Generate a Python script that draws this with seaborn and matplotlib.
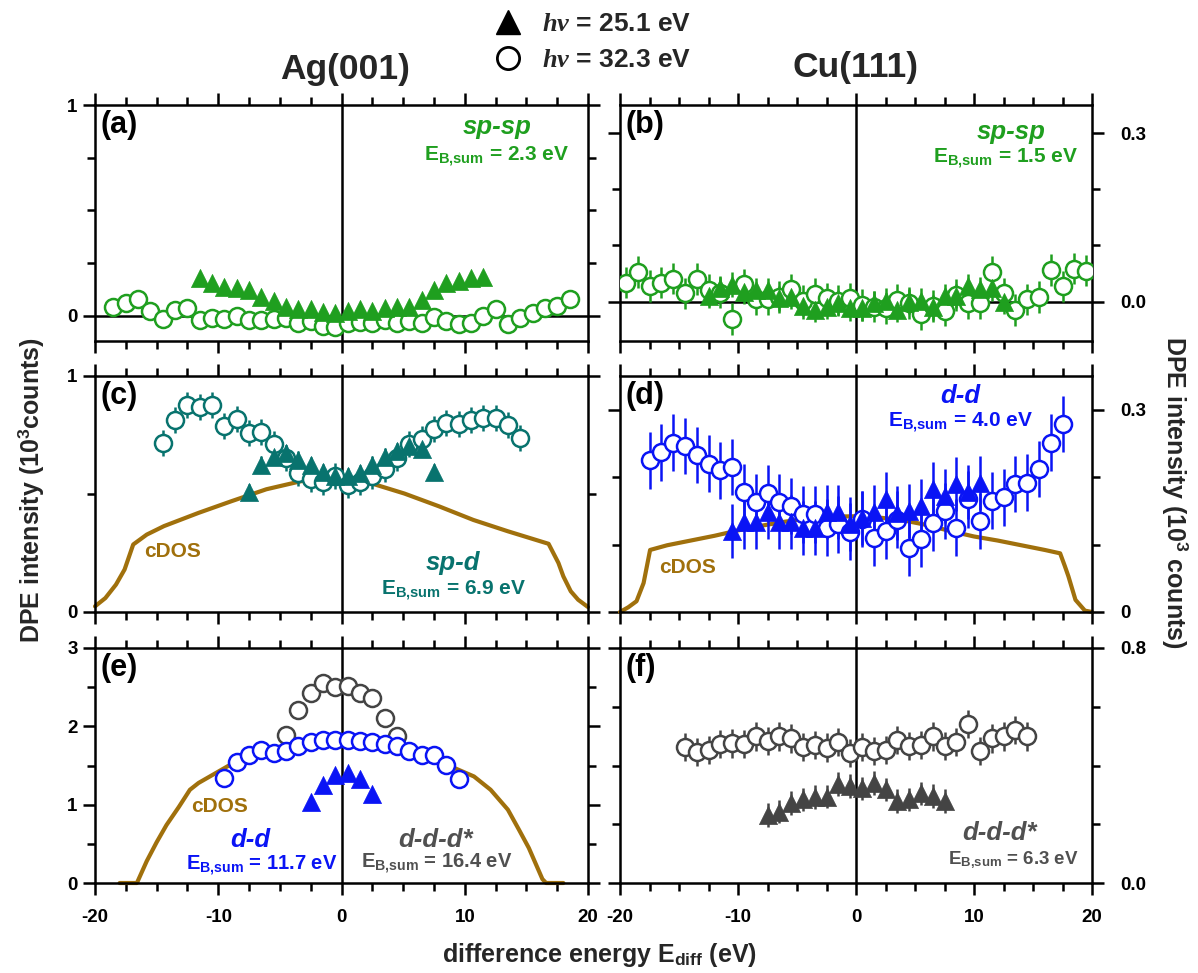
import numpy as np
import pandas as pd
import matplotlib
matplotlib.use("Agg")
import matplotlib.pyplot as plt
import seaborn as sns
from matplotlib.lines import Line2D
from matplotlib.ticker import FixedLocator, FixedFormatter

# ---------------- data ----------------
# (a) Ag(001) sp-sp
a_circ_x = [-18.5, -17.5, -16.5, -15.5, -14.5, -13.5, -12.5, -11.5, -10.5, -9.5, -8.5, -7.5, -6.5, -5.5,
            -4.5, -3.5, -2.5, -1.5, -0.5, 0.5, 1.5, 2.5, 3.5, 4.5, 5.5, 6.5, 7.5, 8.5, 9.5, 10.5,
            11.5, 12.5, 13.5, 14.5, 15.5, 16.5, 17.5, 18.5]
a_circ_y = [0.043, 0.062, 0.078, 0.024, -0.014, 0.027, 0.035, -0.020, -0.011, -0.016, -0.002, -0.020,
            -0.020, -0.017, -0.011, -0.036, -0.025, -0.049, -0.055, -0.036, -0.028, -0.036, -0.020,
            -0.033, -0.027, -0.036, -0.005, -0.025, -0.040, -0.036, -0.002, 0.032, -0.040, -0.013,
            0.014, 0.035, 0.046, 0.078]
a_tri_x = [-11.5, -10.5, -9.5, -8.5, -7.5, -6.5, -5.5, -4.5, -3.5, -2.5, -1.5, -0.5, 0.5, 1.5, 2.5,
           3.5, 4.5, 5.5, 6.5, 7.5, 8.5, 9.5, 10.5, 11.5]
a_tri_y = [0.177, 0.153, 0.138, 0.130, 0.122, 0.087, 0.071, 0.040, 0.033, 0.030, 0.019, 0.014, 0.024,
           0.033, 0.024, 0.035, 0.043, 0.043, 0.074, 0.122, 0.153, 0.166, 0.177, 0.185]

# (b) Cu(111) sp-sp
b_circ_x = [-19.5, -18.5, -17.5, -16.5, -15.5, -14.5, -13.5, -12.5, -11.5, -10.5, -9.5, -8.5, -7.5,
            -6.5, -5.5, -4.5, -3.5, -2.5, -1.5, -0.5, 0.5, 1.5, 2.5, 3.5, 4.5, 5.5, 6.5, 7.5, 8.5,
            9.5, 10.5, 11.5, 12.5, 13.5, 14.5, 15.5, 16.5, 17.5, 18.5, 19.5]
b_circ_y = [0.034, 0.053, 0.028, 0.034, 0.041, 0.015, 0.040, 0.021, 0.016, -0.031, 0.031, 0.004,
            0.004, 0.008, 0.022, 0.002, 0.014, 0.006, 0.002, 0.006, -0.006, -0.009, -0.012, 0.003,
            -0.002, -0.022, -0.008, -0.016, 0.012, -0.003, -0.002, 0.053, 0.015, -0.015, 0.004,
            0.008, 0.056, 0.027, 0.059, 0.055]
b_tri_x = [-12.5, -11.5, -10.5, -9.5, -8.5, -7.5, -6.5, -5.5, -4.5, -3.5, -2.5, -1.5, -0.5, 0.5,
           1.5, 2.5, 3.5, 4.5, 5.5, 6.5, 7.5, 8.5, 9.5, 10.5, 11.5, 12.5]
b_tri_y = [0.010, 0.024, 0.030, 0.018, 0.021, 0.021, 0.006, 0.009, -0.008, -0.014, -0.009, -0.002,
           -0.012, -0.012, -0.003, 0.002, -0.014, 0.000, 0.002, -0.010, 0.010, 0.010, 0.028, 0.022,
           0.024, 0.000]

# (c) Ag(001) sp-d
c_circ_x = [-14.5, -13.5, -12.5, -11.5, -10.5, -9.5, -8.5, -7.5, -6.5, -5.5, -4.5, -3.5, -2.5, -1.5,
            -0.5, 0.5, 1.5, 2.5, 3.5, 4.5, 5.5, 6.5, 7.5, 8.5, 9.5, 10.5, 11.5, 12.5, 13.5, 14.5]
c_circ_y = [0.717, 0.813, 0.876, 0.870, 0.876, 0.788, 0.816, 0.760, 0.762, 0.710, 0.653, 0.590,
            0.564, 0.550, 0.576, 0.540, 0.550, 0.576, 0.607, 0.653, 0.710, 0.734, 0.774, 0.802,
            0.795, 0.813, 0.823, 0.823, 0.791, 0.738]
c_tri_x = [-7.5, -6.5, -5.5, -4.5, -3.5, -2.5, -1.5, -0.5, 0.5, 1.5, 2.5, 3.5, 4.5, 5.5, 6.5, 7.5]
c_tri_y = [0.508, 0.625, 0.658, 0.672, 0.646, 0.621, 0.593, 0.578, 0.576, 0.587, 0.625, 0.658,
           0.682, 0.703, 0.692, 0.593]
c_dos_x = [-20, -19.16, -18.3, -17.6, -16.9, -15.8, -14.4, -11.6, -8.9, -6.1, -3.3, -0.5, 0.9, 2.3,
           5.1, 7.9, 10.7, 13.5, 16.8, 17.6, 18.0, 18.6, 19.2, 20]
c_dos_y = [0.024, 0.059, 0.116, 0.18, 0.286, 0.328, 0.364, 0.42, 0.47, 0.52, 0.554, 0.569, 0.567,
           0.547, 0.502, 0.448, 0.39, 0.342, 0.289, 0.208, 0.151, 0.088, 0.052, 0.021]

# (d) Cu(111) d-d
d_circ_x = [-17.5, -16.5, -15.5, -14.5, -13.5, -12.5, -11.5, -10.5, -9.5, -8.5, -7.5, -6.5, -5.5,
            -4.5, -3.5, -2.5, -1.5, -0.5, 0.5, 1.5, 2.5, 3.5, 4.5, 5.5, 6.5, 7.5, 8.5, 9.5, 10.5,
            11.5, 12.5, 13.5, 14.5, 15.5, 16.5, 17.5]
d_circ_y = [0.225, 0.237, 0.251, 0.246, 0.233, 0.220, 0.210, 0.215, 0.178, 0.163, 0.176, 0.163,
            0.157, 0.145, 0.145, 0.125, 0.130, 0.119, 0.138, 0.110, 0.120, 0.137, 0.095, 0.108,
            0.132, 0.150, 0.125, 0.167, 0.135, 0.165, 0.170, 0.190, 0.192, 0.212, 0.251, 0.279]
d_tri_x = [-10.5, -9.5, -8.5, -7.5, -6.5, -5.5, -4.5, -3.5, -2.5, -1.5, -0.5, 0.5, 1.5, 2.5, 3.5,
           4.5, 5.5, 6.5, 7.5, 8.5, 9.5, 10.5]
d_tri_y = [0.120, 0.134, 0.134, 0.149, 0.133, 0.134, 0.125, 0.125, 0.149, 0.149, 0.130, 0.140,
           0.149, 0.167, 0.147, 0.150, 0.157, 0.182, 0.172, 0.190, 0.178, 0.192]
d_dos_x = [-20, -19.3, -18.6, -18, -17.45, -16, -14, -12, -10, -8, -6, -4, -2, 0, 2, 4, 6, 8, 10,
           12, 14, 16, 17.3, 17.7, 18, 18.6, 19.4, 20]
d_dos_y = [0, 0.007, 0.016, 0.043, 0.092, 0.099, 0.106, 0.113, 0.121, 0.128, 0.134, 0.139, 0.1415,
           0.142, 0.140, 0.136, 0.129, 0.120, 0.112, 0.106, 0.099, 0.092, 0.087, 0.068, 0.053,
           0.018, 0.002, 0]

# (e) Ag(001) d-d and d-d-d*
e_circ_x = [-9.5, -8.5, -7.5, -6.5, -5.5, -4.5, -3.5, -2.5, -1.5, -0.5, 0.5, 1.5, 2.5, 3.5, 4.5,
            5.5, 6.5, 7.5, 8.5, 9.5]
e_circ_y = [1.34, 1.55, 1.63, 1.70, 1.66, 1.68, 1.745, 1.80, 1.82, 1.83, 1.83, 1.81, 1.80, 1.77,
            1.745, 1.68, 1.64, 1.63, 1.51, 1.33]
e_gray_x = [-4.5, -3.5, -2.5, -1.5, -0.5, 0.5, 1.5, 2.5, 3.5, 4.5]
e_gray_y = [1.89, 2.21, 2.43, 2.55, 2.50, 2.52, 2.42, 2.36, 2.11, 1.88]
e_tri_x = [-2.5, -1.5, -0.5, 0.5, 1.5, 2.5]
e_tri_y = [1.03, 1.255, 1.38, 1.40, 1.33, 1.14]
e_dos_x = [-18, -16.6, -15.8, -15.0, -14.2, -13.2, -12.3, -11.6, -8.8, -6.0, -3.25, -0.45, 2.35,
           5.15, 7.95, 10.75, 12.1, 13.5, 14.4, 15.2, 16.3, 16.6, 18]
e_dos_y = [0, 0, 0.28, 0.52, 0.74, 0.97, 1.19, 1.277, 1.53, 1.70, 1.81, 1.864, 1.83, 1.72, 1.55,
           1.36, 1.19, 0.936, 0.68, 0.447, 0.05, 0, 0]

# (f) Cu(111) d-d-d*
f_circ_x = [-14.5, -13.5, -12.5, -11.5, -10.5, -9.5, -8.5, -7.5, -6.5, -5.5, -4.5, -3.5, -2.5, -1.5,
            -0.5, 0.5, 1.5, 2.5, 3.5, 4.5, 5.5, 6.5, 7.5, 8.5, 9.5, 10.5, 11.5, 12.5, 13.5, 14.5]
f_circ_y = [0.463, 0.446, 0.452, 0.472, 0.475, 0.472, 0.499, 0.484, 0.499, 0.492, 0.463, 0.469,
            0.461, 0.480, 0.443, 0.463, 0.450, 0.452, 0.486, 0.466, 0.469, 0.499, 0.466, 0.480,
            0.540, 0.450, 0.492, 0.499, 0.520, 0.499]
f_tri_x = [-7.5, -6.5, -5.5, -4.5, -3.5, -2.5, -1.5, -0.5, 0.5, 1.5, 2.5, 3.5, 4.5, 5.5, 6.5, 7.5]
f_tri_y = [0.232, 0.243, 0.273, 0.285, 0.292, 0.294, 0.337, 0.330, 0.322, 0.341, 0.319, 0.280,
           0.285, 0.305, 0.296, 0.280]

x_major = [-20, -10, 0, 10, 20]
x_labels = ["-20", "-10", "0", "10", "20"]

# ---------------- style ----------------
sns.set_theme(style="ticks")
plt.rcParams['font.family'] = ['Liberation Sans', 'DejaVu Sans']
plt.rcParams['font.weight'] = 'bold'
plt.rcParams['mathtext.fontset'] = 'custom'
plt.rcParams['mathtext.rm'] = 'Liberation Sans:bold'
plt.rcParams['mathtext.bf'] = 'Liberation Sans:bold'
plt.rcParams['mathtext.sf'] = 'Liberation Sans:bold'
plt.rcParams['mathtext.it'] = 'Liberation Serif:italic:bold'

GREEN = "#1f9f1f"
TEAL = "#08736e"
BLUE = "#0a14f5"
GRAY = "#444444"
GRAYTXT = "#505050"
BROWN = "#a0700c"
LW = 1.8

fig = plt.figure(figsize=(11.98, 9.73), dpi=100)
W, H = 1198.0, 973.0


def make_ax(left, right, top, bottom):
    return fig.add_axes([left / W, 1 - bottom / H, (right - left) / W, (bottom - top) / H])


axa = make_ax(95, 588, 105, 341)
axb = make_ax(620, 1092, 105, 341)
axc = make_ax(95, 588, 376, 612)
axd = make_ax(620, 1092, 376, 612)
axe = make_ax(95, 588, 648, 883)
axf = make_ax(620, 1092, 648, 883)


def points(ax, x, y, err, color, marker):
    ax.errorbar(x, y, yerr=err, fmt='none', ecolor=color, elinewidth=LW, capsize=0, zorder=3)
    if marker == 'o':
        sns.scatterplot(x=x, y=y, ax=ax, marker='o', s=150, color=color, facecolors='white',
                        edgecolor=color, linewidth=LW, zorder=4)
    else:
        sns.scatterplot(x=x, y=y, ax=ax, marker='^', s=170, color=color, edgecolor=color,
                        linewidth=0.5, zorder=5)


def cdos(ax, x, y):
    sns.lineplot(x=x, y=y, ax=ax, color=BROWN, linewidth=3.0, sort=False, zorder=2,
                 clip_on=False)


def style(ax, ylim, ymaj, ylab, ymin, side, bottom_labels):
    ax.set_xlim(-20, 20)
    ax.set_ylim(*ylim)
    ax.axvline(0, color='black', lw=LW, zorder=1)
    ax.xaxis.set_major_locator(FixedLocator(x_major))
    ax.xaxis.set_major_formatter(FixedFormatter(x_labels))
    ax.xaxis.set_minor_locator(FixedLocator([-17.5, -15, -12.5, -7.5, -5, -2.5, 2.5, 5, 7.5, 12.5, 15, 17.5]))
    ax.yaxis.set_major_locator(FixedLocator(ymaj))
    ax.yaxis.set_major_formatter(FixedFormatter(ylab))
    ax.yaxis.set_minor_locator(FixedLocator(ymin))
    for sp in ax.spines.values():
        sp.set_visible(True)
        sp.set_linewidth(LW)
        sp.set_color('black')
    ax.tick_params(which='both', direction='out', top=True, bottom=True, left=True, right=True,
                   width=LW, color='black', labelsize=13.5, labelcolor='black')
    ax.tick_params(which='major', length=8.5, pad=4)
    ax.tick_params(which='minor', length=5.5)
    ax.tick_params(axis='x', labelbottom=bottom_labels, labeltop=False, pad=10)
    if side == 'left':
        ax.tick_params(axis='y', labelleft=True, labelright=False)
    else:
        ax.tick_params(axis='y', labelleft=False, labelright=True, pad=12)
    for lab in ax.get_xticklabels() + ax.get_yticklabels():
        lab.set_fontweight('bold')
    ax.set_xlabel("")
    ax.set_ylabel("")
    ax.set_facecolor('white')


def panel_label(ax, s):
    ax.text(0.012, 0.978, s, transform=ax.transAxes, ha='left', va='top', fontsize=22,
            fontweight='bold', color='black')


def label(ax, x, y, s, color, size, italic=False):
    ax.text(x, y, s, transform=ax.transAxes, ha='center', va='center', fontsize=size,
            fontweight='bold', fontstyle='italic' if italic else 'normal', color=color)


EB = r"E$_{\mathrm{B{,}sum}}$ = "

# (a)
axa.axhline(0, color='black', lw=LW, zorder=1)
points(axa, a_circ_x, a_circ_y, 0.012, GREEN, 'o')
points(axa, a_tri_x, a_tri_y, 0.008, GREEN, '^')
style(axa, (-0.12, 1.0), [0, 1], ["0", "1"], [0.25, 0.5, 0.75], 'left', False)
panel_label(axa, "(a)")
label(axa, 0.816, 0.905, "sp-sp", GREEN, 18.5, True)
label(axa, 0.815, 0.785, EB + "2.3 eV", GREEN, 15)

# (b)
axb.axhline(0, color='black', lw=LW, zorder=1)
points(axb, b_circ_x, b_circ_y, 0.028, GREEN, 'o')
points(axb, b_tri_x, b_tri_y, 0.022, GREEN, '^')
style(axb, (-0.07, 0.35), [0.0, 0.3], ["0.0", "0.3"], [0.1, 0.2], 'right', False)
panel_label(axb, "(b)")
label(axb, 0.828, 0.885, "sp-sp", GREEN, 18.5, True)
label(axb, 0.818, 0.775, EB + "1.5 eV", GREEN, 15)

# (c)
cdos(axc, c_dos_x, c_dos_y)
points(axc, c_circ_x, c_circ_y, 0.055, TEAL, 'o')
points(axc, c_tri_x, c_tri_y, 0.035, TEAL, '^')
style(axc, (0, 1.0), [0, 1], ["0", "1"], [0.5], 'left', False)
panel_label(axc, "(c)")
label(axc, 0.157, 0.257, "cDOS", BROWN, 15)
label(axc, 0.727, 0.208, "sp-d", TEAL, 18.5, True)
label(axc, 0.727, 0.095, EB + "6.9 eV", TEAL, 15)

# (d)
cdos(axd, d_dos_x, d_dos_y)
points(axd, d_circ_x, d_circ_y, 0.042, BLUE, 'o')
points(axd, d_tri_x, d_tri_y, 0.04, BLUE, '^')
style(axd, (0, 0.35), [0, 0.3], ["0", "0.3"], [0.1, 0.2], 'right', False)
panel_label(axd, "(d)")
label(axd, 0.144, 0.187, "cDOS", BROWN, 15)
label(axd, 0.722, 0.915, "d-d", BLUE, 18.5, True)
label(axd, 0.722, 0.805, EB + "4.0 eV", BLUE, 15)

# (e)
cdos(axe, e_dos_x, e_dos_y)
points(axe, e_gray_x, e_gray_y, 0.035, GRAY, 'o')
points(axe, e_circ_x, e_circ_y, 0.025, BLUE, 'o')
points(axe, e_tri_x, e_tri_y, 0.025, BLUE, '^')
style(axe, (0, 3.0), [0, 1, 2, 3], ["0", "1", "2", "3"], [0.5, 1.5, 2.5], 'left', True)
panel_label(axe, "(e)")
label(axe, 0.252, 0.326, "cDOS", BROWN, 15)
label(axe, 0.316, 0.184, "d-d", BLUE, 18.5, True)
label(axe, 0.339, 0.078, EB + "11.7 eV", BLUE, 14.5)
label(axe, 0.690, 0.184, "d-d-d*", GRAYTXT, 18.5, True)
label(axe, 0.694, 0.085, EB + "16.4 eV", GRAYTXT, 14.5)

# (f)
points(axf, f_circ_x, f_circ_y, 0.048, GRAY, 'o')
points(axf, f_tri_x, f_tri_y, 0.04, GRAY, '^')
style(axf, (0, 0.8), [0, 0.8], ["0.0", "0.8"], [0.2, 0.4, 0.6], 'right', True)
panel_label(axf, "(f)")
label(axf, 0.805, 0.212, "d-d-d*", GRAYTXT, 18.5, True)
label(axf, 0.833, 0.099, EB + "6.3 eV", GRAYTXT, 13.5)

# ---------------- figure texts ----------------
fig.text(345 / W, 1 - 70 / H, "Ag(001)", ha='center', va='center', fontsize=25.5, fontweight='bold')
fig.text(855 / W, 1 - 68 / H, "Cu(111)", ha='center', va='center', fontsize=25.5, fontweight='bold')
fig.text(31 / W, 1 - 490 / H, r"DPE intensity (10$^{3}$counts)", rotation=90, ha='center',
         va='center', fontsize=18, fontweight='bold')
fig.text(1175 / W, 1 - 492 / H, r"DPE intensity (10$^{3}$ counts)", rotation=270, ha='center',
         va='center', fontsize=18, fontweight='bold')
fig.text(600 / W, 1 - 955 / H, r"difference energy E$_{\mathrm{diff}}$ (eV)", ha='center',
         va='center', fontsize=18, fontweight='bold')

handles = [Line2D([], [], marker='^', color='black', ls='none', markersize=17),
           Line2D([], [], marker='o', color='black', mfc='none', mew=2, ls='none', markersize=16)]
labels = [r"$h\nu$ = 25.1 eV", r"$h\nu$ = 32.3 eV"]
fig.legend(handles, labels, loc='center left', bbox_to_anchor=(492 / W, 1 - 42 / H),
           frameon=False, fontsize=19, handlelength=1.2, handletextpad=0.7, labelspacing=0.45,
           borderpad=0, borderaxespad=0, prop={'weight': 'bold', 'size': 19})

fig.savefig("out.png", dpi=100)
